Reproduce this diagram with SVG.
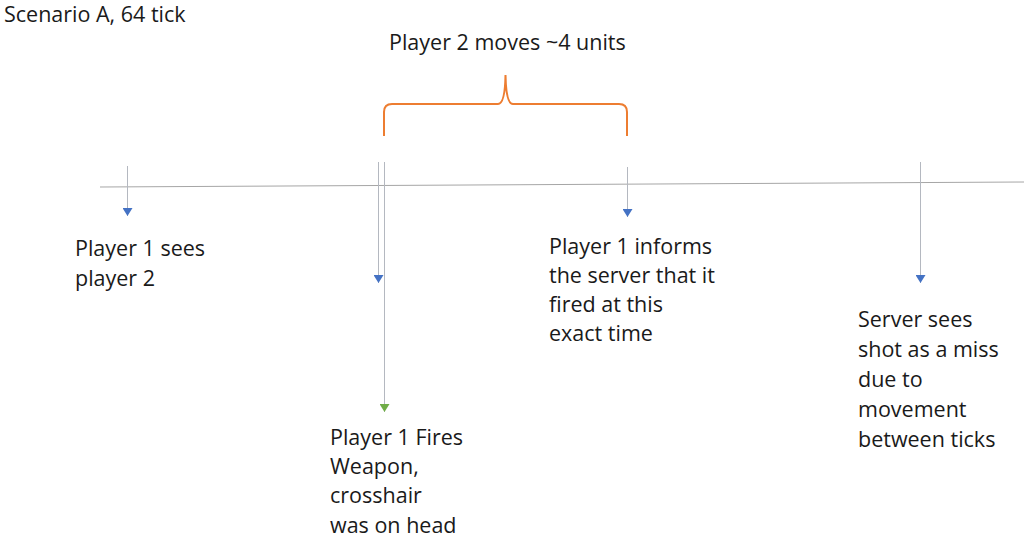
<svg xmlns="http://www.w3.org/2000/svg" width="1024" height="557" viewBox="0 0 1024 557">
<defs>
<marker id="ab" markerWidth="10" markerHeight="8" refX="5" refY="8" markerUnits="userSpaceOnUse" viewBox="0 0 10 8"><path d="M0,0 L10,0 L5,8 Z" fill="#4472C4"/></marker>
<marker id="ag" markerWidth="10" markerHeight="8" refX="5" refY="8" markerUnits="userSpaceOnUse" viewBox="0 0 10 8"><path d="M0,0 L10,0 L5,8 Z" fill="#70AD47"/></marker>
</defs>
<style>
text{font-family:"Open Sans",Lato,"Liberation Sans",sans-serif;font-size:21.5px;fill:#1a1a1a}
.c{stroke:#b4b8c0;stroke-width:1;fill:none}
</style>
<rect width="1024" height="557" fill="#fff"/>
<text x="4" y="21.5" font-size="20">Scenario A, 64 tick</text>
<g id="connectors">
<line x1="100" y1="187" x2="1024" y2="182" stroke="#a6a6a6" stroke-width="1"/>
<line class="c" x1="127.5" y1="166" x2="127.5" y2="216" marker-end="url(#ab)"/>
<line class="c" x1="378.5" y1="162" x2="378.5" y2="283" marker-end="url(#ab)"/>
<line class="c" x1="384.5" y1="162" x2="384.5" y2="412" marker-end="url(#ag)"/>
<line class="c" x1="627.5" y1="167" x2="627.5" y2="217" marker-end="url(#ab)"/>
<line class="c" x1="920.5" y1="162" x2="920.5" y2="283" marker-end="url(#ab)"/>
</g>
<g id="brace">
<path d="M384,136 L384,112 Q384,104 392,104 L498,104 Q505,104 505.5,75 Q506,104 513,104 L619,104 Q627,104 627,112 L627,136" fill="none" stroke="#ED7D31" stroke-width="2"/>
<text x="389" y="50">Player 2 moves ~4 units</text>
</g>
<g id="n1"><text x="75" y="256">Player 1 sees</text><text x="75" y="286">player 2</text></g>
<g id="n2"><text x="330" y="445">Player 1 Fires</text><text x="330" y="474">Weapon,</text><text x="330" y="503">crosshair</text><text x="330" y="533">was on head</text></g>
<g id="n3"><text x="549" y="254">Player 1 informs</text><text x="549" y="283">the server that it</text><text x="549" y="312">fired at this</text><text x="549" y="341">exact time</text></g>
<g id="n4"><text x="858" y="327">Server sees</text><text x="858" y="357">shot as a miss</text><text x="858" y="387">due to</text><text x="858" y="417">movement</text><text x="858" y="447">between ticks</text></g>
</svg>
